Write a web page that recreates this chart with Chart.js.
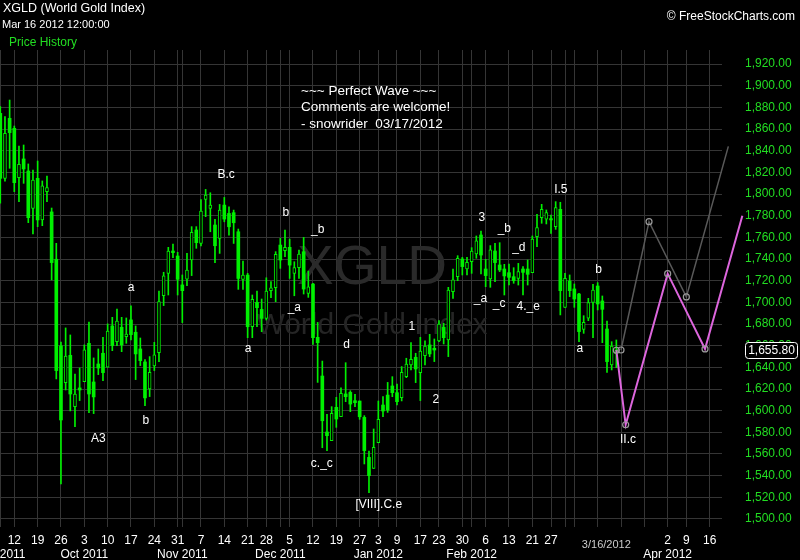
<!DOCTYPE html>
<html><head><meta charset="utf-8">
<script src="https://cdn.jsdelivr.net/npm/chart.js@4.4.1/dist/chart.umd.min.js"></script>
<style>html,body{margin:0;padding:0;background:#000;}canvas{display:block;}</style>
</head><body>
<canvas id="c" width="800" height="560"></canvas>
<script>
// ---- categories: trading days ----
const dates = [
'2011-09-07','2011-09-08','2011-09-09','2011-09-12','2011-09-13','2011-09-14','2011-09-15','2011-09-16','2011-09-19','2011-09-20','2011-09-21','2011-09-22','2011-09-23','2011-09-26','2011-09-27','2011-09-28','2011-09-29','2011-09-30',
'2011-10-03','2011-10-04','2011-10-05','2011-10-06','2011-10-07','2011-10-10','2011-10-11','2011-10-12','2011-10-13','2011-10-14','2011-10-17','2011-10-18','2011-10-19','2011-10-20','2011-10-21','2011-10-24','2011-10-25','2011-10-26','2011-10-27','2011-10-28','2011-10-31',
'2011-11-01','2011-11-02','2011-11-03','2011-11-04','2011-11-07','2011-11-08','2011-11-09','2011-11-10','2011-11-11','2011-11-14','2011-11-15','2011-11-16','2011-11-17','2011-11-18','2011-11-21','2011-11-22','2011-11-23','2011-11-25','2011-11-28','2011-11-29','2011-11-30',
'2011-12-01','2011-12-02','2011-12-05','2011-12-06','2011-12-07','2011-12-08','2011-12-09','2011-12-12','2011-12-13','2011-12-14','2011-12-15','2011-12-16','2011-12-19','2011-12-20','2011-12-21','2011-12-22','2011-12-23','2011-12-27','2011-12-28','2011-12-29','2011-12-30',
'2012-01-03','2012-01-04','2012-01-05','2012-01-06','2012-01-09','2012-01-10','2012-01-11','2012-01-12','2012-01-13','2012-01-17','2012-01-18','2012-01-19','2012-01-20','2012-01-23','2012-01-24','2012-01-25','2012-01-26','2012-01-27','2012-01-30','2012-01-31',
'2012-02-01','2012-02-02','2012-02-03','2012-02-06','2012-02-07','2012-02-08','2012-02-09','2012-02-10','2012-02-13','2012-02-14','2012-02-15','2012-02-16','2012-02-17','2012-02-21','2012-02-22','2012-02-23','2012-02-24','2012-02-27','2012-02-28','2012-02-29',
'2012-03-01','2012-03-02','2012-03-05','2012-03-06','2012-03-07','2012-03-08','2012-03-09','2012-03-12','2012-03-13','2012-03-14','2012-03-15','2012-03-16',
'2012-03-19','2012-03-20','2012-03-21','2012-03-22','2012-03-23','2012-03-26','2012-03-27','2012-03-28','2012-03-29','2012-03-30',
'2012-04-02','2012-04-03','2012-04-04','2012-04-05','2012-04-09','2012-04-10','2012-04-11','2012-04-12','2012-04-13','2012-04-16','2012-04-17','2012-04-18','2012-04-19','2012-04-20','2012-04-23','2012-04-24','2012-04-25','2012-04-26','2012-04-27'
];

// ---- price history (OHLC) ----
const open = [
1874.5,1814.5,1869.9,1860.7,1815.1,1832.4,1821.3,1786.8,1814.5,1776.1,1802.2,1783.5,1739.8,1659.8,1625.9,1651.1,1603.8,1621.0,
1626.8,1662.2,1626.5,1643.1,1653.0,1640.1,1678.2,1663.8,1677.0,1668.4,1683.8,1672.4,1657.0,1645.0,1620.1,1641.3,1653.6,1706.2,1726.8,1747.4,1742.8,
1716.1,1721.3,1739.1,1766.8,1754.4,1795.1,1786.8,1771.4,1759.1,1789.8,1782.1,1782.8,1765.2,1721.2,1725.2,1677.5,1700.0,1693.5,1685.2,1710.8,1713.5,
1752.9,1747.7,1750.8,1726.8,1732.0,1746.8,1708.3,1716.9,1667.7,1632.0,1580.3,1572.3,1603.1,1594.4,1615.4,1616.9,1609.2,1608.9,1593.8,1556.9,1546.7,
1570.4,1605.2,1614.4,1622.8,1616.6,1612.0,1631.4,1642.2,1649.3,1635.1,1650.8,1660.7,1657.6,1664.4,1677.0,1665.3,1709.9,1723.7,1740.0,1730.8,
1737.6,1744.7,1762.2,1730.8,1721.6,1747.4,1734.5,1730.8,1727.4,1723.7,1722.2,1730.8,1730.8,1727.4,1760.7,1778.2,1776.7,1777.3,1769.9,1785.9,
1695.4,1719.7,1712.4,1707.7,1675.1,1685.3,1700.0,1715.1,1701.3,1675.4,1642.2,1653.6
];
const high = [
1880.7,1871.5,1886.8,1862.8,1844.4,1845.3,1827.8,1822.2,1830.5,1812.1,1816.7,1787.1,1754.5,1663.4,1676.4,1669.9,1633.9,1639.4,
1660.7,1681.9,1648.7,1657.0,1667.7,1680.1,1686.2,1693.9,1686.2,1685.6,1696.7,1678.2,1667.1,1647.1,1649.9,1663.1,1710.5,1727.8,1750.8,1753.9,1746.2,
1725.3,1745.3,1769.9,1769.9,1795.0,1804.3,1801.2,1776.6,1790.4,1796.9,1788.3,1785.2,1767.7,1738.1,1726.8,1706.8,1710.4,1703.1,1722.7,1719.1,1746.8,
1759.1,1766.8,1758.4,1737.5,1748.3,1760.0,1728.9,1717.5,1681.5,1645.8,1596.6,1603.7,1612.3,1621.2,1644.3,1618.4,1615.1,1608.9,1595.4,1562.7,1583.1,
1608.9,1612.9,1626.1,1631.4,1624.6,1640.7,1648.4,1662.8,1653.0,1667.7,1664.4,1670.5,1666.2,1683.1,1680.7,1713.9,1730.8,1743.1,1741.6,1741.6,
1750.5,1761.3,1765.9,1739.7,1752.4,1754.5,1755.1,1735.1,1735.4,1732.0,1736.0,1733.0,1739.1,1761.3,1781.3,1790.5,1785.3,1780.7,1793.0,1792.4,
1726.8,1725.3,1717.0,1708.4,1687.7,1703.7,1716.7,1718.2,1705.9,1682.8,1663.7,1665.3
];
const low = [
1791.5,1812.0,1823.8,1802.2,1793.0,1809.9,1773.6,1763.1,1769.9,1770.8,1793.0,1720.7,1629.3,1532.4,1619.1,1599.8,1585.3,1609.3,
1626.8,1598.2,1597.3,1633.3,1627.8,1640.1,1655.4,1660.1,1654.5,1662.2,1665.3,1628.7,1641.6,1604.7,1613.0,1637.0,1645.3,1697.0,1706.8,1741.3,1706.8,
1681.3,1715.4,1724.7,1749.9,1752.0,1779.1,1765.2,1736.6,1745.2,1774.4,1762.1,1754.4,1712.0,1712.0,1667.4,1667.4,1677.5,1672.9,1683.7,1704.3,1700.6,
1731.4,1742.1,1722.1,1706.1,1722.1,1707.7,1704.6,1661.2,1626.1,1565.8,1563.1,1572.3,1584.6,1594.4,1608.3,1599.1,1603.7,1592.0,1550.8,1524.3,1546.7,
1570.4,1594.4,1598.4,1612.9,1605.2,1609.0,1630.5,1637.6,1625.9,1609.3,1642.2,1649.9,1645.3,1663.8,1661.6,1649.9,1703.7,1720.0,1725.3,1725.3,
1726.8,1740.7,1726.2,1714.5,1713.9,1719.1,1728.4,1706.8,1716.0,1717.6,1716.0,1706.8,1716.0,1727.4,1751.4,1773.0,1772.4,1763.7,1767.4,1688.4,
1695.4,1705.3,1695.4,1663.7,1671.4,1683.1,1667.4,1693.0,1662.8,1635.4,1637.6,1639.7
];
const close = [
1814.5,1856.1,1856.7,1810.5,1827.5,1823.2,1778.2,1813.0,1776.1,1807.5,1805.9,1736.7,1637.0,1591.4,1650.5,1615.4,1615.4,1619.1,
1656.1,1615.4,1612.7,1639.4,1635.1,1673.6,1660.1,1682.8,1660.7,1670.8,1670.2,1652.4,1646.2,1611.8,1635.4,1651.5,1700.7,1724.4,1747.4,1745.9,1721.3,
1710.8,1729.9,1764.7,1755.1,1784.3,1799.1,1789.8,1752.3,1785.2,1776.9,1769.8,1773.5,1722.1,1725.2,1677.5,1702.8,1695.1,1685.2,1710.4,1713.5,1744.3,
1739.1,1750.8,1734.4,1732.0,1744.6,1712.3,1714.4,1667.4,1662.8,1590.7,1576.9,1597.5,1592.3,1616.0,1612.9,1606.1,1607.4,1594.4,1563.1,1540.0,1566.1,
1592.0,1599.7,1600.6,1616.6,1608.3,1635.4,1643.1,1647.4,1638.5,1655.1,1659.7,1652.4,1656.0,1680.0,1667.4,1711.4,1720.7,1740.7,1733.0,1737.0,
1747.4,1756.7,1743.7,1724.7,1748.4,1736.7,1729.9,1724.4,1723.1,1720.0,1728.4,1727.7,1725.9,1758.5,1769.0,1785.9,1782.8,1776.1,1787.4,1710.8,
1722.2,1710.8,1703.1,1673.0,1681.6,1699.7,1711.4,1698.5,1693.6,1645.3,1659.7,1655.8
];

// ---- projected wave paths ----
const grayDates  = ['2012-03-19','2012-03-27','2012-04-09','2012-04-20'];
const grayValues = [1656.0, 1774.5, 1705.0, 1844.0];
const pinkDates  = ['2012-03-16','2012-03-20','2012-04-02','2012-04-13','2012-04-25'];
const pinkValues = [1655.8, 1587.0, 1726.5, 1657.0, 1780.0];

// ---- axis tick labels ----
const yTickValues = [1500,1520,1540,1560,1580,1600,1620,1640,1660,1680,1700,1720,1740,1760,1780,1800,1820,1840,1860,1880,1900,1920];
const monthNames = ['Jan','Feb','Mar','Apr','May','Jun','Jul','Aug','Sep','Oct','Nov','Dec'];
const hiddenDayLabels = ['2012-03-05','2012-03-12','2012-03-19','2012-03-26'];
const hiddenMonthLabels = ['2012-03'];

// ---- wave annotations: [text, position along day axis, price] ----
const notes = [
['A3',21.0,1574],['a',28.0,1714],['b',31.2,1591],['B.c',48.4,1818],['b',61.2,1783],['_b',68.0,1767],
['_a',63.0,1695],['a',53.1,1657],['d',74.2,1661],['c._c',68.9,1551],['[VIII].C.e',81.1,1513],
['1',88.2,1678],['2',93.3,1610],['3',103.2,1778.5],['_b',108.0,1768],['_d',111.1,1750.5],
['_a',102.9,1703],['_c',106.9,1699],['4._e',113.1,1696],['I.5',120.1,1804],['b',128.2,1730],
['a',124.2,1657],['II.c',134.5,1573]
];
const commentLines = ['~~~ Perfect Wave ~~~','Comments are welcome!','- snowrider  03/17/2012'];

const GREEN = '#00f000';
const FONT = "'Liberation Sans', Arial, sans-serif";

// build x ticks (week starts + month starts)
const parsed = dates.map(s => { const p = s.split('-').map(Number); return new Date(Date.UTC(p[0], p[1]-1, p[2])); });
const tickInfo = {};
for (let i = 0; i < dates.length; i++) {
  const dt = parsed[i], prev = i > 0 ? parsed[i-1] : null;
  const weekStart = i > 0 && dt.getUTCDay() < prev.getUTCDay();
  const monthStart = i === 0 || dt.getUTCMonth() !== prev.getUTCMonth();
  if (!weekStart && !monthStart) continue;
  const day = (weekStart && !hiddenDayLabels.includes(dates[i])) ? String(dt.getUTCDate()) : '';
  const month = (monthStart && !hiddenMonthLabels.includes(dates[i].slice(0,7))) ? monthNames[dt.getUTCMonth()] + ' ' + dt.getUTCFullYear() : '';
  tickInfo[i] = month ? [day, month] : day;
}
const nHist = close.length;
const wickData = close.map((c, i) => ({x: i, y: [low[i], high[i]]}));
const bodyData = close.map((c, i) => ({x: i, y: [open[i], c]}));
const upFlags = close.map((c, i) => c >= open[i]);

const X_MIN = -0.064, X_MAX = 154.64;

const overlay = {
  id: 'overlay',
  beforeDatasetsDraw(chart) {
    const ctx = chart.ctx;
    ctx.save();
    ctx.textAlign = 'center';
    ctx.textBaseline = 'alphabetic';
    ctx.fillStyle = '#2a2a2a';
    ctx.font = '55px ' + FONT;
    ctx.fillText('XGLD', 372, 284);
    ctx.fillStyle = '#252525';
    ctx.font = '30px ' + FONT;
    ctx.fillText('World Gold Index', 372, 334);
    ctx.restore();
  },
  afterDraw(chart) {
    const ctx = chart.ctx, xs = chart.scales.x, ys = chart.scales.y;
    ctx.save();
    ctx.textBaseline = 'middle';
    // header
    ctx.fillStyle = '#ffffff';
    ctx.textAlign = 'left';
    ctx.font = '12.5px ' + FONT;
    ctx.fillText('XGLD (World Gold Index)', 3, 9);
    ctx.font = '11px ' + FONT;
    ctx.fillText('Mar 16 2012 12:00:00', 2, 25);
    ctx.fillStyle = '#22dd22';
    ctx.font = '12px ' + FONT;
    ctx.fillText('Price History', 9, 43);
    ctx.fillStyle = '#ffffff';
    ctx.textAlign = 'right';
    ctx.fillText('\u00A9 FreeStockCharts.com', 795, 17);
    // comments
    ctx.textAlign = 'left';
    ctx.font = '13.5px ' + FONT;
    commentLines.forEach((t, k) => ctx.fillText(t, 301, 91 + k * 16.5));
    // wave notes
    ctx.textAlign = 'center';
    ctx.font = '12px ' + FONT;
    notes.forEach(n => ctx.fillText(n[0], xs.getPixelForValue(n[1]), ys.getPixelForValue(n[2])));
    // cursor date
    ctx.fillStyle = '#cccccc';
    ctx.font = '11px ' + FONT;
    ctx.fillText('3/16/2012', xs.getPixelForValue(nHist - 1) - 10, 545);
    // last price box
    const last = close[nHist - 1];
    const py = Math.round(ys.getPixelForValue(last)) + 0.5;
    ctx.beginPath();
    if (ctx.roundRect) ctx.roundRect(745.5, py - 8, 52, 16, 3); else ctx.rect(745.5, py - 8, 52, 16);
    ctx.fillStyle = '#000';
    ctx.fill();
    ctx.strokeStyle = '#ffffff';
    ctx.lineWidth = 1;
    ctx.stroke();
    ctx.fillStyle = '#ffffff';
    ctx.font = '12px ' + FONT;
    ctx.fillText(last.toLocaleString('en-US', {minimumFractionDigits: 2, maximumFractionDigits: 2}), 771.5, py);
    ctx.restore();
  }
};

new Chart(document.getElementById('c'), {
  type: 'bar',
  data: {
    datasets: [
      {
        type: 'line', label: 'gray', order: 0, clip: false,
        data: grayDates.map((d, k) => ({x: dates.indexOf(d), y: grayValues[k]})),
        borderColor: '#595959', borderWidth: 1.5, tension: 0,
        pointRadius: 3, pointBorderColor: '#9a9a9a', pointBackgroundColor: 'rgba(0,0,0,0)', pointBorderWidth: 1.2
      },
      {
        type: 'line', label: 'pink', order: 0, clip: false,
        data: pinkDates.map((d, k) => ({x: dates.indexOf(d), y: pinkValues[k]})),
        borderColor: '#dd66dd', borderWidth: 2, tension: 0,
        pointRadius: [3,3,3,3,0], pointBorderColor: '#9a9a9a', pointBackgroundColor: 'rgba(0,0,0,0)', pointBorderWidth: 1.2
      },
      {
        label: 'body', order: 2, grouped: false,
        data: bodyData, barThickness: 3, minBarLength: 1,
        backgroundColor: upFlags.map(u => u ? '#000000' : GREEN),
        borderColor: GREEN, borderWidth: upFlags.map(u => u ? 1 : 0), borderSkipped: false
      },
      {
        label: 'wick', order: 3, grouped: false,
        data: wickData, barThickness: 1,
        backgroundColor: GREEN, borderWidth: 0
      }
    ]
  },
  options: {
    responsive: false, animation: false, devicePixelRatio: 1,
    layout: {autoPadding: false, padding: {top: 50, left: 0, right: 0, bottom: 0}},
    plugins: {legend: {display: false}, tooltip: {enabled: false}},
    scales: {
      x: {
        type: 'linear', min: X_MIN, max: X_MAX, offset: false,
        afterBuildTicks(scale) {
          scale.ticks = Object.keys(tickInfo).map(Number).filter(v => v >= X_MIN && v <= X_MAX).map(v => ({value: v}));
        },
        afterFit(scale) { scale.height = 33; scale.paddingLeft = 0; scale.paddingRight = 0; },
        grid: {color: '#353535', drawTicks: false, offset: false},
        border: {display: false},
        ticks: {
          color: '#ffffff', font: {family: FONT, size: 12}, padding: 6,
          autoSkip: false, maxRotation: 0, minRotation: 0,
          callback: (v) => (tickInfo[v] !== undefined ? tickInfo[v] : '')
        }
      },
      y: {
        position: 'right', min: 1492.6, max: 1933.0,
        afterBuildTicks(scale) { scale.ticks = yTickValues.map(v => ({value: v})); },
        afterFit(scale) { scale.width = 78; scale.paddingTop = 0; scale.paddingBottom = 0; },
        grid: {color: '#353535', drawTicks: false},
        border: {display: false},
        ticks: {
          color: '#22dd22', font: {family: FONT, size: 12}, padding: 23,
          callback: (v) => Number(v).toLocaleString('en-US', {minimumFractionDigits: 2, maximumFractionDigits: 2})
        }
      }
    }
  },
  plugins: [overlay]
});
</script>
</body></html>
